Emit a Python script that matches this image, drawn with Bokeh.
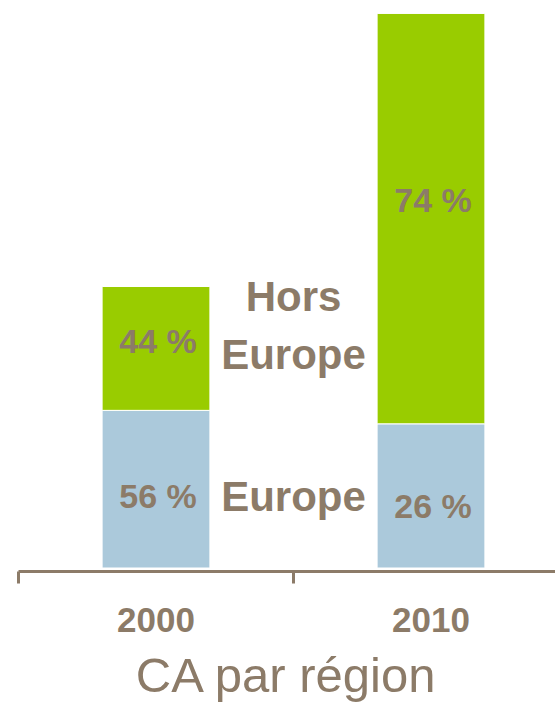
from bokeh.plotting import figure
from bokeh.models import Range1d, FixedTicker, ColumnDataSource
from bokeh.core.properties import value
from bokeh.embed import file_html
from bokeh.resources import INLINE

# ---- data ----
years = ["2000", "2010"]
europe_pct = [56, 26]
hors_pct = [44, 74]
ca_index = [100, 197]          # relative turnover (2000 = 100)
series_names = ["Europe", "Hors\nEurope"]

BROWN = "#8C7B68"
GREEN = "#99CC00"
BLUE = "#ABC9DB"
FONT = "Liberation Sans"

xc = [i + 0.5 for i in range(len(years))]
eu_h = [p * t / 100 for p, t in zip(europe_pct, ca_index)]
ho_h = [p * t / 100 for p, t in zip(hors_pct, ca_index)]
tops = [e + h for e, h in zip(eu_h, ho_h)]

p = figure(width=555, height=704, output_backend="svg", toolbar_location=None,
           x_range=Range1d(0, 537 / 275), y_range=Range1d(-1.24, 201.6),
           min_border_left=18, min_border_right=0, min_border_top=0, min_border_bottom=133)
p.outline_line_color = None
p.grid.visible = False
p.yaxis.visible = False
p.background_fill_color = "white"

src = ColumnDataSource(dict(x=xc, eu=eu_h, top=tops,
                            eu_lab=[f"{v} %" for v in europe_pct],
                            ho_lab=[f"{v} %" for v in hors_pct],
                            eu_mid=[e / 2 for e in eu_h],
                            ho_mid=[e + h / 2 for e, h in zip(eu_h, ho_h)],
                            eu_off=[7, 10], ho_off=[-7, -19]))

p.vbar(x="x", bottom=0, top="eu", width=0.392, source=src,
       fill_color=BLUE, line_color="white", line_width=1)
p.vbar(x="x", bottom="eu", top="top", width=0.392, source=src,
       fill_color=GREEN, line_color="white", line_width=1)

p.text(x="x", y="eu_mid", text="eu_lab", source=src, x_offset=2, y_offset="eu_off",
       text_align="center", text_baseline="middle", text_color=BROWN,
       text_font=value(FONT), text_font_style="bold", text_font_size="34px")
p.text(x="x", y="ho_mid", text="ho_lab", source=src, x_offset=2, y_offset="ho_off",
       text_align="center", text_baseline="middle", text_color=BROWN,
       text_font=value(FONT), text_font_style="bold", text_font_size="34px")

# series names between the bars, next to the 2000 segments
p.text(x=[1.0, 1.0], y=[eu_h[0] / 2, eu_h[0] + ho_h[0] / 2], text=series_names,
       x_offset=[0, 0], y_offset=[7, -23],
       text_align="center", text_baseline="middle", text_color=BROWN,
       text_font=value(FONT), text_font_style="bold", text_font_size="42px",
       text_line_height=1.22)

ax = p.xaxis[0]
ax.ticker = FixedTicker(ticks=xc, minor_ticks=[0, 1, 2])
ax.major_label_overrides = {x: y for x, y in zip(xc, years)}
ax.axis_line_color = BROWN
ax.axis_line_width = 3
ax.major_tick_line_color = None
ax.major_tick_out = 0
ax.major_tick_in = 0
ax.minor_tick_line_color = BROWN
ax.minor_tick_line_width = 3
ax.minor_tick_out = 12
ax.minor_tick_in = 0
ax.major_label_standoff = 24
ax.major_label_text_color = BROWN
ax.major_label_text_font = FONT
ax.major_label_text_font_style = "bold"
ax.major_label_text_font_size = "35px"
ax.axis_label = "CA par région"
ax.axis_label_standoff = 13
ax.axis_label_text_color = BROWN
ax.axis_label_text_font = FONT
ax.axis_label_text_font_style = "normal"
ax.axis_label_text_font_size = "49px"

open("out.html", "w").write(file_html(p, INLINE))
